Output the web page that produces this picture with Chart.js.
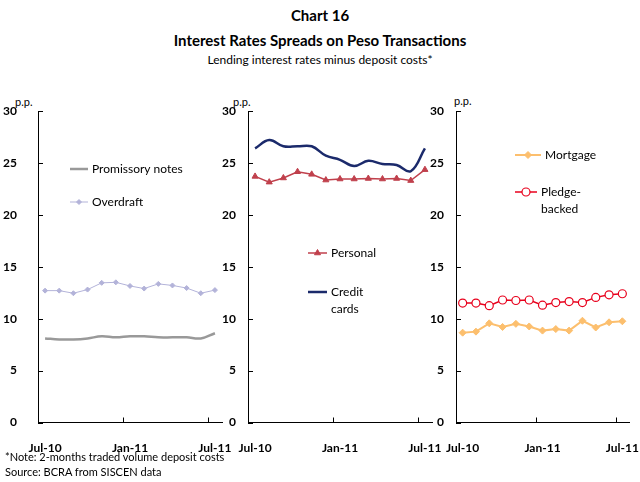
<!DOCTYPE html>
<html>
<head>
<meta charset="utf-8">
<title>Chart 16 - Interest Rates Spreads on Peso Transactions</title>
<script src="https://cdn.jsdelivr.net/npm/chart.js@4/dist/chart.umd.min.js"></script>
<style>
  body { margin: 0; width: 640px; height: 482px; background: #fff; position: relative; overflow: hidden; font-family: Lato, "Open Sans", sans-serif; color: #000; }
  .txt { position: absolute; white-space: nowrap; }
  .centre { left: 0; width: 640px; text-align: center; }
  canvas { position: absolute; top: 95px; }
</style>
</head>
<body>
<div class="txt centre" style="top:6px; font-weight:bold; font-size:15px;">Chart 16</div>
<div class="txt centre" style="top:31px; font-weight:bold; font-size:15px;">Interest Rates Spreads on Peso Transactions</div>
<div class="txt centre" style="top:52px; font-size:12px;">Lending interest rates minus deposit costs*</div>

<div class="txt" style="left:15px; top:95px; font-size:11px;">p.p.</div>
<div class="txt" style="left:233px; top:95px; font-size:11px;">p.p.</div>
<div class="txt" style="left:454px; top:94px; font-size:11px;">p.p.</div>

<canvas id="panelLeft" width="240" height="365" style="left:0px"></canvas>
<canvas id="panelMiddle" width="222" height="365" style="left:222px"></canvas>
<canvas id="panelRight" width="214" height="365" style="left:426px"></canvas>

<div class="txt" style="left:5px; top:450px; font-size:11px;">*Note: 2-months traded volume deposit costs</div>
<div class="txt" style="left:5px; top:465px; font-size:11px;">Source: BCRA from SISCEN data</div>

<script>
//---------------------------------------------------------
// Data (p.p., monthly, Jul-10 to Jul-11)
const months = ["Jul-10", "Aug-10", "Sep-10", "Oct-10", "Nov-10", "Dec-10", "Jan-11",
                "Feb-11", "Mar-11", "Apr-11", "May-11", "Jun-11", "Jul-11"];
const xTickLabels = ["Jul-10", "Jan-11", "Jul-11"];
const yTicks = [0, 5, 10, 15, 20, 25, 30];

const promissoryNotes = [8.1, 8.0, 8.0, 8.1, 8.3, 8.2, 8.3, 8.3, 8.2, 8.2, 8.2, 8.1, 8.6];
const overdraft       = [12.7, 12.7, 12.45, 12.8, 13.45, 13.5, 13.15, 12.9, 13.35, 13.2, 12.95, 12.45, 12.75];

const creditCards = [26.4, 27.2, 26.6, 26.6, 26.6, 25.7, 25.3, 24.7, 25.2, 24.9, 24.8, 24.2, 26.4];
const personal    = [23.7, 23.15, 23.55, 24.15, 23.9, 23.35, 23.45, 23.45, 23.5, 23.45, 23.5, 23.3, 24.35];

const pledgeBacked = [11.5, 11.5, 11.25, 11.8, 11.75, 11.8, 11.3, 11.55, 11.65, 11.55, 12.05, 12.3, 12.4];
const mortgage     = [8.65, 8.75, 9.55, 9.2, 9.5, 9.25, 8.85, 9.0, 8.85, 9.8, 9.15, 9.65, 9.75];

//---------------------------------------------------------
// Plugin: tick marks pointing into the plot (Excel style)
const innerTicks = {
  id: "innerTicks",
  afterDraw(chart) {
    const { ctx, chartArea, scales: { x, y } } = chart;
    ctx.save();
    ctx.strokeStyle = "#000";
    ctx.lineWidth = 1;
    ctx.beginPath();
    y.ticks.forEach((t) => {
      const py = Math.round(y.getPixelForValue(t.value)) + 0.5;
      ctx.moveTo(chartArea.left, py);
      ctx.lineTo(chartArea.left + 5, py);
    });
    months.forEach((m, i) => {
      if (i > 0 && xTickLabels.includes(m)) { // mark sits between the labelled month and the one before
        const px = Math.round((x.getPixelForValue(i - 1) + x.getPixelForValue(i)) / 2) + 0.5;
        ctx.moveTo(px, chartArea.bottom);
        ctx.lineTo(px, chartArea.bottom - 5);
      }
    });
    ctx.stroke();
    ctx.restore();
  },
};

//---------------------------------------------------------
// Plugin: legend drawn inside the plot area
const panelLegend = {
  id: "panelLegend",
  afterDraw(chart, args, opts) {
    const { ctx } = chart;
    (opts.items || []).forEach((item) => {
      const ds = chart.data.datasets[item.dataset];
      ctx.save();
      ctx.strokeStyle = ds.borderColor;
      ctx.lineWidth = ds.borderWidth;
      ctx.beginPath();
      ctx.moveTo(item.x, item.y);
      ctx.lineTo(item.x + item.len, item.y);
      ctx.stroke();
      if (ds.pointRadius > 0) {
        ctx.fillStyle = ds.pointBackgroundColor;
        ctx.strokeStyle = ds.pointBorderColor;
        ctx.lineWidth = ds.pointBorderWidth;
        Chart.helpers.drawPoint(ctx, {
          pointStyle: ds.pointStyle, radius: ds.pointRadius, rotation: 0, borderWidth: ds.pointBorderWidth,
        }, item.x + item.len / 2, item.y);
      }
      ctx.fillStyle = "#000";
      ctx.font = "12px Lato, 'Open Sans', sans-serif";
      ctx.textBaseline = "middle";
      ctx.textAlign = "left";
      item.text.forEach((line, k) => ctx.fillText(line, item.x + item.len + 4, item.y + k * 17));
      ctx.restore();
    });
  },
};

//---------------------------------------------------------
// Reusable panel builder
function renderPanel(canvasId, datasets, legendItems, layout) {
  const ctx = document.getElementById(canvasId).getContext("2d");
  return new Chart(ctx, {
    type: "line",
    data: { labels: months, datasets },
    options: {
      responsive: false,
      animation: false,
      layout: { padding: { top: 16, right: layout.right, bottom: 0, left: 0 } },
      scales: {
        x: {
          type: "category",
          offset: true,
          grid: { display: false, drawTicks: false },
          border: { display: true, color: "#000", width: 1 },
          ticks: {
            autoSkip: false, maxRotation: 0, padding: 18, color: "#000",
            font: { family: "Lato, 'Open Sans', sans-serif", size: 12, weight: "bold" },
            callback: (v, i) => (xTickLabels.includes(months[i]) ? months[i] : ""),
          },
          afterFit: (scale) => { scale.height = 37.5; scale.paddingLeft = 0; scale.paddingRight = 0; },
        },
        y: {
          min: 0, max: 30,
          afterBuildTicks: (scale) => { scale.ticks = yTicks.map((v) => ({ value: v })); },
          grid: { display: false, drawTicks: false },
          border: { display: true, color: "#000", width: 1 },
          ticks: {
            padding: layout.labelGap, color: "#000",
            font: { family: "Lato, 'Open Sans', sans-serif", size: 12, weight: "bold" },
          },
          afterFit: (scale) => { scale.width = layout.axisWidth; scale.paddingTop = 0; scale.paddingBottom = 0; },
        },
      },
      plugins: {
        legend: { display: false },
        tooltip: { enabled: false },
        panelLegend: { items: legendItems },
      },
    },
    plugins: [innerTicks, panelLegend],
  });
}

//---------------------------------------------------------
// Left panel: Promissory notes and Overdraft
renderPanel("panelLeft", [
  {
    label: "Promissory notes", data: promissoryNotes,
    borderColor: "#999999", borderWidth: 2.5, tension: 0.4,
    pointRadius: 0,
  },
  {
    label: "Overdraft", data: overdraft,
    borderColor: "#b3b3d9", borderWidth: 1, tension: 0,
    pointStyle: "rectRot", pointRadius: 2.5, pointBorderWidth: 1,
    pointBackgroundColor: "#b3b3d9", pointBorderColor: "#b3b3d9",
  },
], [
  { dataset: 0, x: 70, y: 74, len: 18, text: ["Promissory notes"] },
  { dataset: 1, x: 70, y: 107, len: 18, text: ["Overdraft"] },
], { axisWidth: 38, labelGap: 21, right: 18 });

//---------------------------------------------------------
// Middle panel: Personal and Credit cards
renderPanel("panelMiddle", [
  {
    label: "Personal", data: personal,
    borderColor: "#c0404c", borderWidth: 1.5, tension: 0,
    pointStyle: "triangle", pointRadius: 3.5, pointBorderWidth: 1,
    pointBackgroundColor: "#c0404c", pointBorderColor: "#c0404c",
  },
  {
    label: "Credit cards", data: creditCards,
    borderColor: "#1b2a6b", borderWidth: 2.5, tension: 0.4,
    pointRadius: 0,
  },
], [
  { dataset: 0, x: 86, y: 158, len: 19, text: ["Personal"] },
  { dataset: 1, x: 86, y: 197, len: 19, text: ["Credit", "cards"] },
], { axisWidth: 26, labelGap: 12, right: 12 });

//---------------------------------------------------------
// Right panel: Mortgage and Pledge-backed
renderPanel("panelRight", [
  {
    label: "Mortgage", data: mortgage,
    borderColor: "#fcbf6e", borderWidth: 2, tension: 0,
    pointStyle: "rectRot", pointRadius: 3.5, pointBorderWidth: 1,
    pointBackgroundColor: "#fcbf6e", pointBorderColor: "#fcbf6e",
  },
  {
    label: "Pledge-backed", data: pledgeBacked,
    borderColor: "#e8001c", borderWidth: 1.5, tension: 0,
    pointStyle: "circle", pointRadius: 4, pointBorderWidth: 1.2,
    pointBackgroundColor: "#ffffff", pointBorderColor: "#e8001c",
  },
], [
  { dataset: 0, x: 89, y: 60, len: 26, text: ["Mortgage"] },
  { dataset: 1, x: 89, y: 97, len: 22, text: ["Pledge-", "backed"] },
], { axisWidth: 30, labelGap: 12, right: 11 });

//---------------------------------------------------------
// End of file
//---------------------------------------------------------
</script>
</body>
</html>
